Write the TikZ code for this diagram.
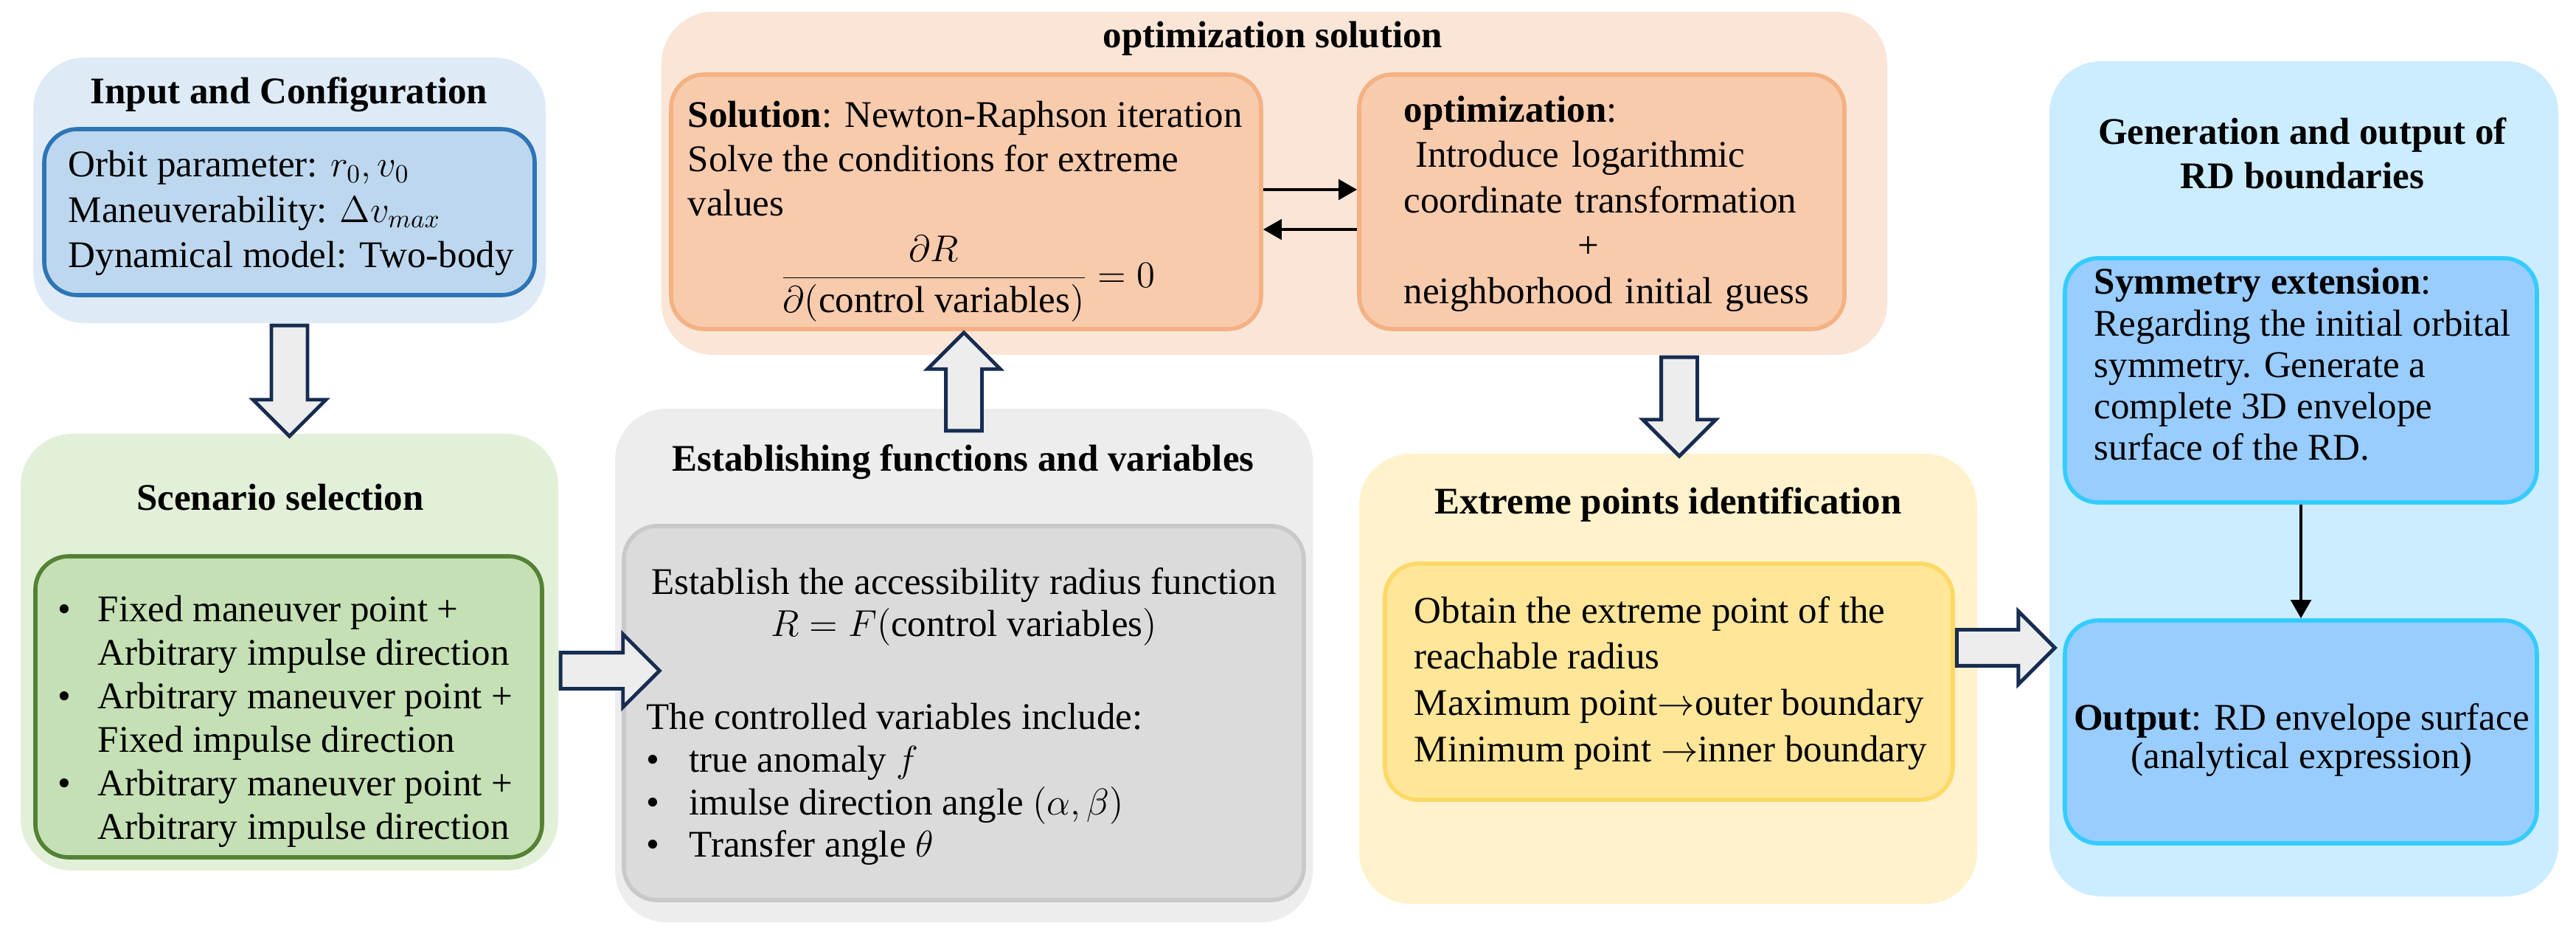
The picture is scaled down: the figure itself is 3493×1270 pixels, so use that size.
\documentclass[tikz,border=0pt]{standalone}
\usepackage{fontspec}
\setmainfont{Liberation Serif}
\usetikzlibrary{shapes.arrows,fit,arrows.meta}

\definecolor{navyln}{HTML}{172C51}
\definecolor{arrfill}{HTML}{EDEDED}
\definecolor{blueout}{HTML}{DEEBF7}
\definecolor{bluein}{HTML}{BDD7EE}
\definecolor{blueln}{HTML}{2E75B6}
\definecolor{greenout}{HTML}{E2F0D9}
\definecolor{greenin}{HTML}{C5E0B4}
\definecolor{greenln}{HTML}{548235}
\definecolor{grayout}{HTML}{EDEDED}
\definecolor{grayin}{HTML}{DBDBDB}
\definecolor{grayln}{HTML}{C9C9C9}
\definecolor{orout}{HTML}{FBE5D6}
\definecolor{orin}{HTML}{F8CBAD}
\definecolor{orln}{HTML}{F4B183}
\definecolor{yelout}{HTML}{FFF2CC}
\definecolor{yelin}{HTML}{FFE699}
\definecolor{yelln}{HTML}{FFD966}
\definecolor{skyout}{HTML}{CCECFF}
\definecolor{skyin}{HTML}{99CCFF}
\definecolor{skyln}{HTML}{33CCFF}

\newcommand{\itm}[1][0.54cm]{\makebox[#1][l]{\textbullet}}

\tikzset{
  grp/.style={rounded corners=0.7cm, inner sep=0pt},
  sub/.style={rounded corners=0.45cm, inner sep=0pt, line width=1.6pt},
  ttl/.style={font=\bfseries\fontsize{14.5}{17}\selectfont, align=center, inner sep=0pt},
  txt/.style={font=\fontsize{14.5}{#1}\selectfont, align=left, anchor=west, inner sep=0pt},
  txt/.default=17pt,
  hollow/.style={single arrow, draw=navyln, fill=arrfill, line width=1.4pt, inner sep=0.22cm,
    single arrow head extend=0.25cm, single arrow tip angle=90, anchor=tail},
  blk/.style={line width=1.4pt, -{Triangle[length=0.25cm,width=0.27cm]}},
}

\begin{document}
\begin{tikzpicture}[x=0.01cm, y=-0.01cm]
    \useasboundingbox (0,0) rectangle (3493,1270);

    \node[grp, fill=blueout, fit={(45,78) (740,438)}] (A) {};
    \node[sub, fill=bluein, draw=blueln, fit={(60,175) (725,400)}] (A1) {};
    \node[ttl] (At) at (392,128) {Input and Configuration};
    \node[txt=17.5pt] (Ax) at (92,289) {Orbit parameter: $r_0,v_0$\\ Maneuverability: $\Delta v_{max}$\\ Dynamical model: Two-body};

    \node[grp, fill=greenout, fit={(28,588) (757,1180)}] (B) {};
    \node[sub, fill=greenin, draw=greenln, fit={(48,754) (735,1162)}] (B1) {};
    \node[ttl] (Bt) at (380,674) {Scenario selection};
    \node[txt=16.8pt] (Bx) at (78,978) {\itm Fixed maneuver point +\\ \hspace*{0.54cm}Arbitrary impulse direction\\
        \itm Arbitrary maneuver point +\\ \hspace*{0.54cm}Fixed impulse direction\\
        \itm Arbitrary maneuver point +\\ \hspace*{0.54cm}Arbitrary impulse direction};

    \node[grp, fill=grayout, fit={(834,554) (1780,1250)}] (C) {};
    \node[sub, fill=grayin, draw=grayln, fit={(846,713) (1768,1220)}] (C1) {};
    \node[ttl] (Ct) at (1306,626) {Establishing functions and variables};
    \node[txt=16.2pt, anchor=center, align=center] (Cx1) at (1307,822) {Establish the accessibility radius function\\ $R=F($control variables$)$};
    \node[txt=16.4pt] (Cx2) at (876,1063) {The controlled variables include:\\ \itm[0.58cm]true anomaly $f$\\
        \itm[0.58cm]imulse direction angle $(\alpha,\beta)$\\ \itm[0.58cm]Transfer angle $\theta$};

    \node[grp, fill=orout, fit={(897,16) (2559,481)}] (D) {};
    \node[sub, fill=orin, draw=orln, fit={(910,101) (1710,446)}] (D1) {};
    \node[sub, fill=orin, draw=orln, fit={(1843,101) (2501,446)}] (D2) {};
    \node[ttl] (Dt) at (1726,52) {optimization solution};
    \node[txt] (D1x) at (932,215) {\textbf{Solution}: Newton-Raphson iteration\\ Solve the conditions for extreme\\ values};
    \node[txt, anchor=center] (D1f) at (1312,378) {$\displaystyle\frac{\partial R}{\partial(\mbox{control variables})}=0$};
    \node[txt=17.5pt, text width=5.6cm] (D2x) at (1903,276) {\textbf{optimization}:\\ \hspace*{0.3em}Introduce logarithmic\\
        coordinate transformation\\ \makebox[5.0cm]{+}\\ neighborhood initial guess};

    \node[grp, fill=yelout, fit={(1843,615) (2681,1225)}] (E) {};
    \node[sub, fill=yelin, draw=yelln, fit={(1878,764) (2648,1084)}] (E1) {};
    \node[ttl] (Et) at (2262,684) {Extreme points identification};
    \node[txt=17.9pt] (Ex) at (1917,926) {Obtain the extreme point of the\\ reachable radius\\
        Maximum point$\rightarrow$outer boundary\\ Minimum point $\rightarrow$inner boundary};

    \node[grp, fill=skyout, fit={(2779,83) (3469,1215)}] (F) {};
    \node[sub, fill=skyin, draw=skyln, fit={(2800,350) (3440,681)}] (F1) {};
    \node[sub, fill=skyin, draw=skyln, fit={(2800,841) (3440,1143)}] (F2) {};
    \node[ttl] (Ft) at (3122,208) {Generation and output of\\ RD boundaries};
    \node[txt=16pt] (F1x) at (2839,494) {\textbf{Symmetry extension}:\\ Regarding the initial orbital\\
        symmetry. Generate a\\ complete 3D envelope\\ surface of the RD.};
    \node[txt=15pt, anchor=center, align=center] (F2x) at (3121,1003) {\textbf{Output}: RD envelope surface\\ (analytical expression)};

    \node[hollow, rotate=-90, minimum height=1.5cm] (ab) at (A.south) {};
    \node[hollow, minimum height=1.34cm] (bc) at ([yshift=-0.25cm]B.east) {};
    \node[hollow, rotate=90, minimum height=1.33cm] (cd) at ([yshift=-0.33cm]C.north) {};
    \node[hollow, rotate=-90, minimum height=1.34cm] (de) at ([xshift=0.15cm]E.north |- D.south) {};
    \node[hollow, minimum height=1.33cm] (ef) at ([yshift=0.46cm]E1.east) {};

    \draw[blk] ([yshift=0.165cm]D1.east) -- ([yshift=0.165cm]D2.west);
    \draw[blk] ([yshift=-0.375cm]D2.west) -- ([yshift=-0.375cm]D1.east);
    \draw[blk] (F1.south) -- (F2.north);
\end{tikzpicture}
\end{document}
